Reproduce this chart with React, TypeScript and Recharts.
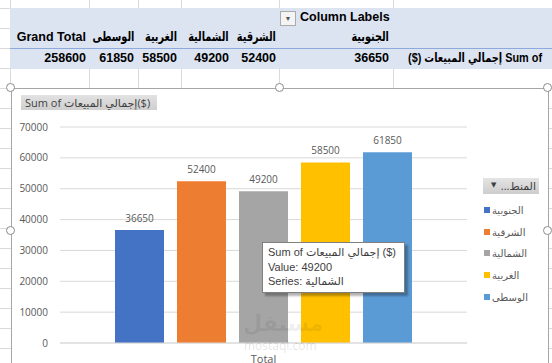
import * as React from 'react';
import {
	BarChart,
	Bar,
	XAxis,
	YAxis,
	CartesianGrid,
	Tooltip,
	Legend,
	LabelList
} from 'recharts';

// pivot / chart values
const regions = ['الجنوبية', 'الشرقية', 'الشمالية', 'الغربية', 'الوسطى'];
const sales = [36650, 52400, 49200, 58500, 61850];
const categories = ['Total'];
const yTicks = [0, 10000, 20000, 30000, 40000, 50000, 60000, 70000];
const measureName = 'Sum of إجمالي المبيعات ($)';
const legendTitle = 'المنط...';
const hoverSeries = 2; // tooltip is showing الشمالية

const Color = ['#4472C4', '#ED7D31', '#A5A5A5', '#FFC000', '#5B9BD5'];

const data = categories.map(c => {
	const row: any = { name: c };
	regions.forEach((r, i) => (row[r] = sales[i]));
	return row;
});
const grandTotal = sales.reduce((a, b) => a + b, 0);

// layout of the sheet behind the chart
const colRight = [389, 276, 229, 177, 134];
const totalRight = 86;
const colLines = [10, 89, 138, 181, 279, 393];
const FONT = '"Liberation Sans", "DejaVu Sans", sans-serif';
const AR_FONT = '"Liberation Sans", "DejaVu Sans Condensed", "DejaVu Sans", sans-serif';
const CHART_FONT = '"Open Sans", "DejaVu Sans", sans-serif';

const abs = (s: React.CSSProperties): React.CSSProperties => ({ position: 'absolute', ...s });

// arabic cells in the pivot are squeezed a bit so they fit like Excel's Calibri
const arCell = (right: number, top: number, size: number, squeeze: number): React.CSSProperties =>
	abs({
		right: 552 - right,
		top,
		fontWeight: 'bold',
		fontSize: size,
		fontFamily: AR_FONT,
		whiteSpace: 'nowrap',
		transform: `scaleX(${squeeze})`,
		transformOrigin: 'right center'
	});

const Handle = ({ x, y }: { x: number; y: number }) => (
	<div
		style={abs({
			left: x - 5,
			top: y - 5,
			width: 7,
			height: 7,
			borderRadius: '50%',
			border: '1.5px solid #8c8c8c',
			background: '#fff'
		})}
	/>
);

const renderTooltipContent = (o: any) => {
	const { payload } = o;
	if (!payload || !payload.length) return null;
	const entry = payload.find((p: any) => p.name === regions[hoverSeries]) || payload[0];
	return (
		<div
			style={{
				background: '#fff',
				border: '1px solid #7f7f7f',
				boxShadow: '3px 3px 2px rgba(0,0,0,0.3)',
				padding: '2px 6px 3px 5px',
				width: 130,
				fontFamily: FONT,
				fontSize: 11,
				lineHeight: '14.5px',
				color: '#404040',
				whiteSpace: 'nowrap'
			}}
		>
			<div>{measureName}</div>
			<div>{`Value: ${entry.value}`}</div>
			<div>{`Series: ${entry.name}`}</div>
		</div>
	);
};

const renderLegend = (o: any) => {
	const { payload } = o;
	return (
		<div style={{ fontFamily: CHART_FONT, fontSize: 10, color: '#595959' }}>
			<div
				style={{
					width: 56,
					height: 16,
					background: 'linear-gradient(#e4e4e4, #cdcdcd)',
					position: 'relative',
					fontSize: 11,
					color: '#404040'
				}}
			>
				<span style={abs({ left: 8, top: 2, fontSize: 7 })}>▼</span>
				<span style={abs({ left: 20, top: 0, width: 33, textAlign: 'right' })} dir="rtl">
					{legendTitle}
				</span>
			</div>
			<div style={{ marginTop: 5 }}>
				{(payload || []).map((entry: any, index: number) => (
					<div
						key={`item-${index}`}
						style={{ height: 21.7, display: 'flex', alignItems: 'center' }}
					>
						<span
							style={{
								width: 6,
								height: 6,
								marginLeft: 1,
								marginRight: 2,
								background: entry.color,
								display: 'inline-block'
							}}
						/>
						<span>{entry.value}</span>
					</div>
				))}
			</div>
		</div>
	);
};

export default function App() {
	const rows = [];
	for (let y = 8; y < 363; y += 20) rows.push(y);

	return (
		<div
			style={abs({
				left: 0,
				top: 0,
				width: 552,
				height: 363,
				overflow: 'hidden',
				background: '#fff',
				fontFamily: FONT
			})}
		>
			{/* sheet grid */}
			{rows.map(y => (
				<div key={'h' + y} style={abs({ left: 0, top: y, width: 552, height: 1, background: '#dadada' })} />
			))}
			{colLines.map(x => (
				<div key={'v' + x} style={abs({ left: x, top: 0, width: 1, height: 88, background: '#dadada' })} />
			))}

			{/* pivot table */}
			<div style={abs({ left: 10, top: 8, width: 542, height: 61, background: '#DCE4F2' })} />
			<div style={abs({ left: 10, top: 48, width: 542, height: 1, background: '#8EA9DB' })} />
			<div
				style={abs({
					left: 280,
					top: 11,
					width: 14,
					height: 13,
					background: '#f4f4f4',
					border: '1px solid #ababab',
					fontSize: 7,
					color: '#555',
					textAlign: 'center',
					lineHeight: '13px'
				})}
			>
				▼
			</div>
			<div style={abs({ left: 300, top: 10, fontWeight: 'bold', fontSize: 12.5 })}>Column Labels</div>
			<div style={abs({ right: 552 - totalRight, top: 30, fontWeight: 'bold', fontSize: 12.5 })}>
				Grand Total
			</div>
			<div style={abs({ right: 552 - totalRight, top: 51, fontWeight: 'bold', fontSize: 12.5 })}>
				{grandTotal}
			</div>
			{regions.map((r, i) => (
				<React.Fragment key={r}>
					<div dir="rtl" style={arCell(colRight[i], 28, 13.5, 0.8)}>
						{r}
					</div>
					<div style={abs({ right: 552 - colRight[i], top: 51, fontWeight: 'bold', fontSize: 12.5 })}>
						{sales[i]}
					</div>
				</React.Fragment>
			))}
			<div dir="rtl" style={arCell(542, 50, 12.5, 0.87)}>
				{measureName}
			</div>

			{/* chart object */}
			<div
				style={abs({
					left: 11,
					top: 88,
					width: 538,
					height: 300,
					border: '1px solid #a6a6a6',
					boxSizing: 'border-box',
					background: '#fff'
				})}
			>
				<div
					style={abs({
						left: 9,
						top: 6,
						width: 132,
						height: 15,
						background: 'linear-gradient(#e2e2e2, #cfcfcf)',
						fontFamily: CHART_FONT,
						fontSize: 11,
						color: '#404040',
						lineHeight: '15px',
						paddingLeft: 4,
						whiteSpace: 'nowrap'
					})}
				>
					Sum of إجمالي المبيعات($)
				</div>
				<div style={abs({ left: -1, top: -1 })}>
					<BarChart
						width={537}
						height={275}
						data={data}
						margin={{ top: 39, right: 81, left: 0, bottom: 0 }}
						barSize={49}
						barGap={13}
					>
						<CartesianGrid vertical={false} stroke="#d9d9d9" />
						<XAxis
							dataKey="name"
							height={20}
							axisLine={{ stroke: '#d9d9d9' }}
							tickLine={false}
							tickSize={6}
							tickMargin={6}
							tick={{ fill: '#595959', fontSize: 11, fontFamily: CHART_FONT }}
						/>
						<YAxis
							width={49}
							domain={[0, 70000]}
							ticks={yTicks}
							axisLine={false}
							tickLine={false}
							tickSize={6}
							tickMargin={6}
							tick={{ fill: '#595959', fontSize: 10, fontFamily: CHART_FONT }}
						/>
						<Legend
							layout="vertical"
							align="center"
							verticalAlign="middle"
							wrapperStyle={{ left: 472, top: 90, width: 70 }}
							content={renderLegend}
						/>
						<Tooltip
							active
							defaultIndex={0}
							position={{ x: 251, y: 154 }}
							cursor={false}
							isAnimationActive={false}
							content={renderTooltipContent}
						/>
						{regions.map((r, i) => (
							<Bar key={r} dataKey={r} name={r} fill={Color[i]} isAnimationActive={false}>
								<LabelList
									dataKey={r}
									position="top"
									offset={8}
									fill="#595959"
									fontSize={10}
									fontFamily={CHART_FONT}
								/>
							</Bar>
						))}
					</BarChart>
				</div>
			</div>

			{/* watermark */}
			<div
				style={abs({
					left: 243,
					top: 311,
					fontSize: 22,
					fontWeight: 'bold',
					color: 'rgba(0,0,0,0.07)',
					fontFamily: '"DejaVu Sans", sans-serif'
				})}
			>
				مستقل
			</div>
			<div style={abs({ left: 244, top: 337, fontSize: 12, color: 'rgba(0,0,0,0.12)', fontFamily: CHART_FONT })}>
				mostaql.com
			</div>

			<Handle x={11} y={88} />
			<Handle x={280} y={88} />
			<Handle x={548} y={88} />
			<Handle x={11} y={231} />
			<Handle x={548} y={231} />
		</div>
	);
}
